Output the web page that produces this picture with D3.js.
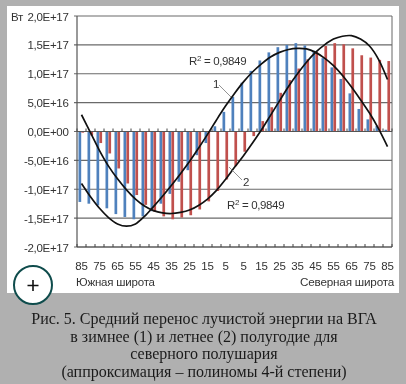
<!DOCTYPE html>
<html><head><meta charset="utf-8">
<script src="https://cdnjs.cloudflare.com/ajax/libs/d3/7.8.5/d3.min.js"></script>
<style>html,body{margin:0;padding:0;background:#b0b0b0;overflow:hidden}svg{display:block;filter:blur(.35px)}</style>
</head><body><svg id="c" width="406" height="384"></svg>
<script>
const latitudes=[85,80,75,70,65,60,55,50,45,40,35,30,25,20,15,10,5,0,5,10,15,20,25,30,35,40,45,50,55,60,65,70,75,80,85];
const winterBars=[-1.22,-1.25,-1.28,-1.33,-1.43,-1.48,-1.52,-1.47,-1.38,-1.25,-1.08,-.87,-.67,-.41,-.2,.09,.34,.6,.845,1.05,1.23,1.37,1.46,1.5,1.53,1.49,1.4,1.27,1.11,.91,.66,.39,.21,.1,.03];
const summerBars=[-.02,-.07,-.2,-.38,-.64,-.9,-1.1,-1.27,-1.39,-1.47,-1.52,-1.49,-1.45,-1.35,-1.21,-1.03,-.83,-.6,-.35,-.08,.18,.42,.67,.89,1.09,1.25,1.38,1.48,1.53,1.51,1.44,1.32,1.28,1.24,1.22];
const winterTrend=[-.9,-1.13,-1.33,-1.49,-1.6,-1.64,-1.6,-1.47,-1.3,-1.12,-.93,-.73,-.52,-.29,-.05,.2,.44,.66,.86,1.03,1.17,1.29,1.37,1.42,1.44,1.43,1.37,1.27,1.14,.97,.77,.55,.32,.05,-.26];
const summerTrend=[.29,-.02,-.33,-.6,-.82,-1.01,-1.17,-1.29,-1.37,-1.41,-1.42,-1.4,-1.36,-1.28,-1.17,-1.02,-.83,-.62,-.42,-.2,.03,.28,.53,.78,1,1.2,1.37,1.5,1.6,1.65,1.66,1.6,1.48,1.25,.9];
const yTicks=[2,1.5,1,.5,0,-.5,-1,-1.5,-2];
const yLabels=["2,0E+17","1,5E+17","1,0E+17","5,0E+16","0,0E+00","-5,0E+16","-1,0E+17","-1,5E+17","-2,0E+17"];
const caption=["Рис. 5. Средний перенос лучистой энергии на ВГА","в зимнее (1) и летнее (2) полугодие для","северного полушария","(аппроксимация – полиномы 4-й степени)"];

const svg=d3.select("#c");
const sans="'Liberation Sans',Arial,sans-serif", txt="#333";
svg.append("rect").attr("width",406).attr("height",384).attr("fill","#b0b0b0");
svg.append("rect").attr("x",7).attr("y",6).attr("width",392).attr("height",287).attr("fill","#fff");

const idx=d3.range(latitudes.length);
const x=d3.scaleBand().domain(idx).range([77,392]);
const y=d3.scaleLinear().domain([-2,2]).range([247,16]);
const cx=i=>x(i)+x.bandwidth()/2;

// grid
svg.append("g").selectAll("line").data(yTicks).join("line")
  .attr("x1",74).attr("x2",392).attr("y1",d=>y(d)).attr("y2",d=>y(d))
  .attr("stroke","#6a6a6a").attr("stroke-width",1.1);
svg.append("line").attr("x1",392).attr("x2",392).attr("y1",16).attr("y2",247).attr("stroke","#666").attr("stroke-width",1);

// bars
const bars=(vals,col,dx)=>svg.append("g").selectAll("rect").data(vals).join("rect")
  .attr("x",(d,i)=>cx(i)+dx).attr("width",2.7)
  .attr("y",d=>y(Math.max(d,0))).attr("height",d=>Math.abs(y(d)-y(0)))
  .attr("fill",col);
bars(winterBars,"#4f81bd",-3);
bars(summerBars,"#c0504d",-.1);

// axes
svg.append("line").attr("x1",77).attr("x2",77).attr("y1",16).attr("y2",247).attr("stroke","#555").attr("stroke-width",1.2);
const edges=d3.range(latitudes.length+1).map(i=>77+i*x.step());
[y(0),247].forEach(yy=>{
  svg.append("line").attr("x1",77).attr("x2",392).attr("y1",yy).attr("y2",yy).attr("stroke","#555").attr("stroke-width",1.1);
  svg.append("g").selectAll("line").data(edges).join("line")
    .attr("x1",d=>d).attr("x2",d=>d).attr("y1",yy-3).attr("y2",yy).attr("stroke","#444").attr("stroke-width",1);
});

// trends
const line=d3.line().x((d,i)=>cx(i)).y(d=>y(d)).curve(d3.curveCatmullRom);
[winterTrend,summerTrend].forEach(t=>svg.append("path").attr("d",line(t)).attr("fill","none").attr("stroke","#111").attr("stroke-width",1.7));

// y labels
svg.append("g").selectAll("text").data(yTicks).join("text")
  .attr("x",68.5).attr("y",d=>y(d)+4.5).attr("text-anchor","end")
  .attr("font-family",sans).attr("font-size",11.5).attr("letter-spacing",-.3).attr("fill",txt)
  .text((d,i)=>yLabels[i]);
const t=(s,xx,yy,a,fs)=>svg.append("text").attr("x",xx).attr("y",yy).attr("text-anchor",a||"start")
  .attr("font-family",sans).attr("font-size",fs||11.5).attr("letter-spacing",-.2).attr("fill",txt).text(s);
t("Вт",11,21);
svg.append("g").selectAll("text").data(idx.filter(i=>i%2===0)).join("text")
  .attr("x",cx).attr("y",270).attr("text-anchor","middle")
  .attr("font-family",sans).attr("font-size",11.5).attr("letter-spacing",-.2).attr("fill",txt)
  .text(i=>latitudes[i]);
t("Южная широта",76,286,"start",11.5);
t("Северная широта",394,286,"end",11.7);

// annotations
const r2=(xx,yy)=>{const g=svg.append("text").attr("x",xx).attr("y",yy).attr("font-family",sans).attr("font-size",11.5).attr("letter-spacing",-.35).attr("fill",txt);
  g.append("tspan").text("R");
  g.append("tspan").attr("dy",-4).attr("font-size",8).text("2");
  g.append("tspan").attr("dy",4).text(" = 0,9849");};
r2(189,64.5);r2(227,209);
t("1",213,88);t("2",243,186);
svg.append("line").attr("x1",219).attr("y1",85).attr("x2",231).attr("y2",97).attr("stroke","#777").attr("stroke-width",.8);
svg.append("line").attr("x1",229).attr("y1",167).attr("x2",242).attr("y2",180).attr("stroke","#777").attr("stroke-width",.8);

// zoom badge
svg.append("circle").attr("cx",33).attr("cy",285).attr("r",19).attr("fill","#fff").attr("stroke","#0f4c4c").attr("stroke-width",2);
svg.append("path").attr("d","M27.5 285.5h11M33 280v11").attr("stroke","#111").attr("stroke-width",1.6);

// caption
svg.append("g").selectAll("text").data(caption).join("text")
  .attr("x",204).attr("y",(d,i)=>324+i*17.7).attr("text-anchor","middle")
  .attr("font-family","'Liberation Serif','Times New Roman',serif").attr("font-size",16).attr("fill","#1a1a1a")
  .text(d=>d);
</script></body></html>
